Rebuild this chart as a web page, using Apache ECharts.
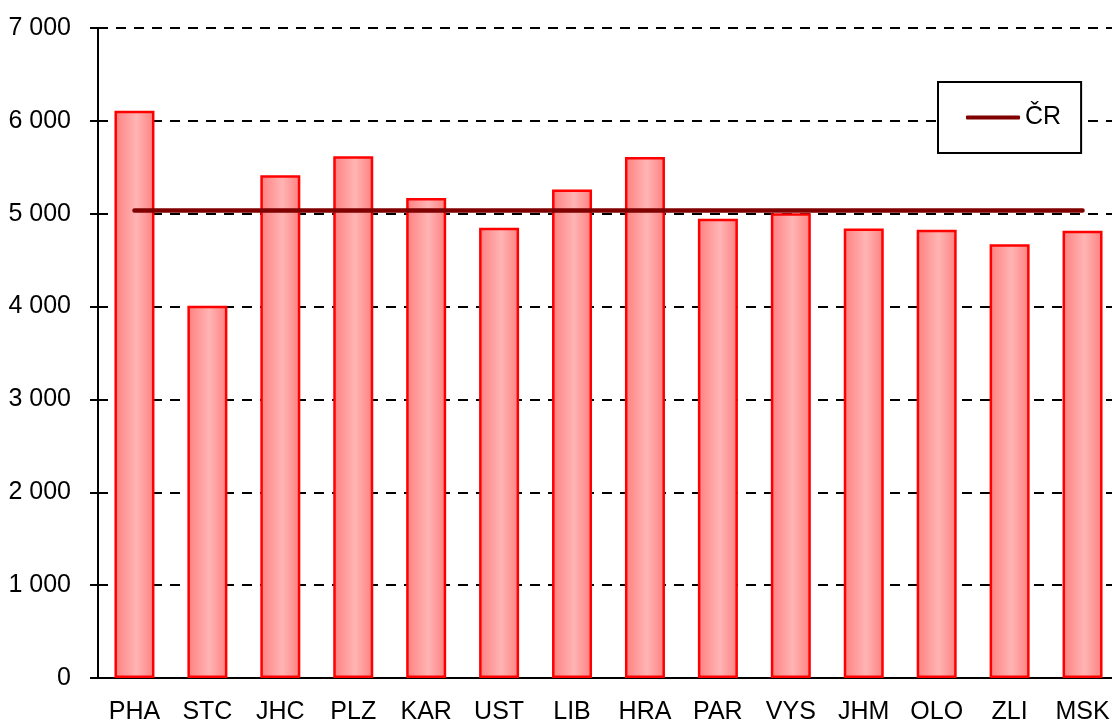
<!DOCTYPE html>
<html>
<head>
<meta charset="utf-8">
<script src="https://cdn.jsdelivr.net/npm/echarts@6/dist/echarts.min.js"></script>
<style>
  html, body { margin: 0; padding: 0; background: #fff; overflow: hidden; }
  #main { width: 1112px; height: 727px; }
</style>
</head>
<body>
<div id="main"></div>
<script>
// regions and their values
var regions = ['PHA', 'STC', 'JHC', 'PLZ', 'KAR', 'UST', 'LIB', 'HRA', 'PAR', 'VYS', 'JHM', 'OLO', 'ZLI', 'MSK'];
var regionValues = [6110, 4010, 5415, 5620, 5170, 4850, 5260, 5612, 4945, 5005, 4842, 4827, 4670, 4816];
var crValue = 5035;
var crValues = regions.map(function () { return crValue; });

var labelFont = "'Liberation Sans', Arial, sans-serif";

var myChart = echarts.init(document.getElementById('main'));

var option = {
    backgroundColor: '#fff',
    animation: false,
    grid: {
        left: 98,
        right: -7,   // plot runs past the right edge, like the original
        top: 28,
        bottom: 49,
        outerBoundsMode: 'none',
        containLabel: false
    },
    legend: {
        data: ['ČR'],
        left: 938,
        top: 82,
        padding: [23, 20, 23, 28],
        icon: 'roundRect',
        itemWidth: 54,
        itemHeight: 4,
        itemGap: 5,
        backgroundColor: '#fff',
        borderColor: '#000',
        borderWidth: 2,
        borderRadius: 0,
        textStyle: {
            color: '#000',
            fontSize: 25,
            fontFamily: labelFont
        }
    },
    xAxis: {
        type: 'category',
        data: regions,
        axisLine: { lineStyle: { color: '#000', width: 2 } },
        axisTick: { length: 9, lineStyle: { color: '#000', width: 2 } },
        axisLabel: {
            interval: 0,
            color: '#000',
            fontSize: 25,
            fontFamily: labelFont,
            margin: 22
        }
    },
    yAxis: {
        type: 'value',
        min: 0,
        max: 7000,
        interval: 1000,
        axisLine: { show: true, lineStyle: { color: '#000', width: 2 } },
        axisTick: { show: true, length: 8, lineStyle: { color: '#000', width: 2 } },
        axisLabel: {
            color: '#000',
            fontSize: 25,
            fontFamily: labelFont,
            margin: 27,
            formatter: function (v) {
                return String(v).replace(/\B(?=(\d{3})+(?!\d))/g, ' ');
            }
        },
        splitLine: {
            lineStyle: { color: '#000', width: 2, type: [10, 8] }
        }
    },
    series: [
        {
            name: 'kraje',
            type: 'bar',
            data: regionValues,
            barWidth: 40,
            itemStyle: {
                borderColor: '#ff0000',
                borderWidth: 2.5,
                color: new echarts.graphic.LinearGradient(0, 0, 1, 0, [
                    { offset: 0, color: '#ff7f7f' },
                    { offset: 0.55, color: '#ffb4b4' },
                    { offset: 1, color: '#ff7f7f' }
                ])
            }
        },
        {
            name: 'ČR',
            type: 'line',
            data: crValues,
            symbol: 'none',
            z: 5,
            lineStyle: { color: '#800000', width: 4.5, cap: 'round' },
            itemStyle: { color: '#800000' }
        }
    ]
};

myChart.setOption(option);
</script>
</body>
</html>
